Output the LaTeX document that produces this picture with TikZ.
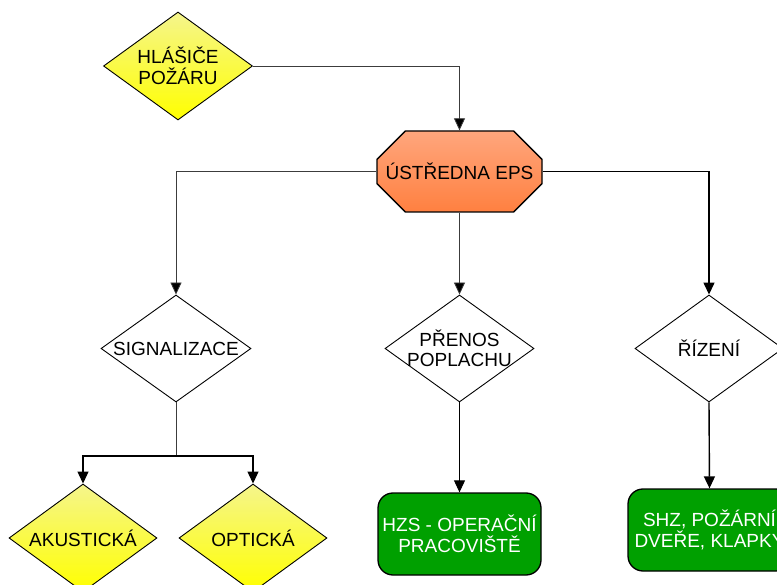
\documentclass[tikz,border=0pt]{standalone}
\usepackage{fontspec}
\setmainfont{Liberation Sans}
\usetikzlibrary{shapes.geometric,shapes.misc,arrows.meta}
\definecolor{ylight}{RGB}{245,245,140}
\definecolor{ydark}{RGB}{255,255,0}
\definecolor{olight}{RGB}{255,166,125}
\definecolor{odark}{RGB}{255,128,64}
\definecolor{boxgreen}{RGB}{0,160,0}
\definecolor{thinline}{RGB}{60,60,60}
\tikzset{
  lbl/.style={font=\fontsize{19}{20.5}\selectfont, align=center},
  dia/.style={shape=diamond, draw=black, line width=0.9pt, inner sep=0pt, minimum width=148pt, minimum height=108pt},
  dtext/.style={label={[lbl, inner sep=0pt]center:#1}},
  ydia/.style={dia, top color=ylight, bottom color=ydark},
  wdia/.style={dia, fill=white},
  octa/.style={lbl, shape=chamfered rectangle, chamfered rectangle xsep=17pt, chamfered rectangle ysep=20pt, draw=black, line width=1.3pt, top color=olight, bottom color=odark, minimum width=165pt, minimum height=81pt, inner sep=0pt},
  gbox/.style={lbl, text=white, rectangle, rounded corners=15pt, draw=black, line width=1.3pt, fill=boxgreen, minimum width=163pt, minimum height=82pt, inner sep=0pt},
  conn/.style={draw=thinline, line width=0.8pt, -{Triangle[length=12pt,width=11pt,fill=black]}},
  thick conn/.style={draw=black, line width=1.4pt, -{Triangle[length=12pt,width=11pt,fill=black]}},
  plain/.style={draw=thinline, line width=0.8pt}
}
\begin{document}
\begin{tikzpicture}[x=1pt,y=-1pt]
\useasboundingbox (0,0) rectangle (777,585);
\clip (0,0) rectangle (777,585);
\fill[white] (0,0) rectangle (777,585);
\node[ydia, minimum width=149pt, dtext={HLÁŠIČE\\POŽÁRU}] (hl) at (178,66) {};
\node[octa] (ustr) at (459.5,171.5) {ÚSTŘEDNA EPS};
\node[wdia, minimum width=150pt, minimum height=107pt, dtext={SIGNALIZACE}] (sig) at (176,348.5) {};
\node[wdia, minimum width=149pt, minimum height=107pt, dtext={PŘENOS\\POPLACHU}] (pren) at (459.5,348.5) {};
\node[wdia, minimum height=107pt, dtext={ŘÍZENÍ}] (riz) at (709,348.5) {};
\node[ydia, dtext={AKUSTICKÁ}] (ak) at (83,538) {};
\node[ydia, dtext={OPTICKÁ}] (op) at (253,538) {};
\node[gbox] (hzs) at (459.5,534) {HZS - OPERAČNÍ\\PRACOVIŠTĚ};
\node[gbox] (shz) at (709.5,530) {SHZ, POŽÁRNÍ\\DVEŘE, KLAPKY};
\coordinate (j) at (176,456);
\draw[conn] (hl.east) -| (ustr.north);
\draw[conn] (ustr.west) -| (sig.north);
\draw[conn] (ustr.south) -- (pren.north);
\draw[thick conn] (ustr.east) -| (riz.north);
\draw[plain] (sig.south) -- (j);
\draw[thick conn, line width=1.1pt] (j) -| (ak.north);
\draw[thick conn, line width=1.1pt] (j) -| (op.north);
\draw[conn, draw=black, line width=1pt] (pren.south) -- (hzs.north);
\draw[thick conn] (riz.south) -- (shz.north);
\end{tikzpicture}
\end{document}
